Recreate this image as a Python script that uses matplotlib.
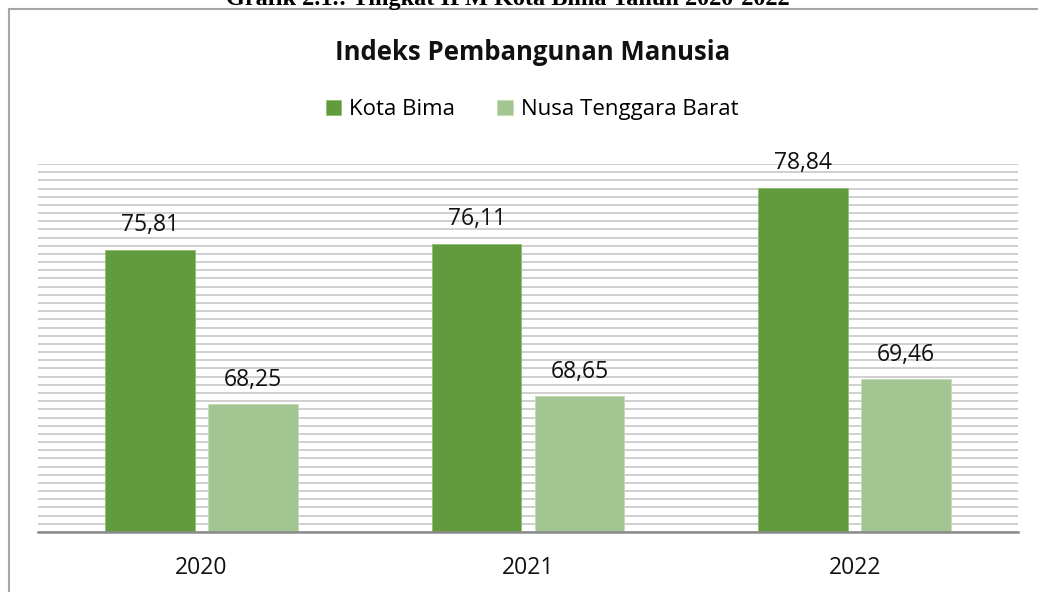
import numpy as np
import matplotlib
matplotlib.use("Agg")
import matplotlib.pyplot as plt
from matplotlib.patches import Rectangle
from matplotlib.ticker import MultipleLocator

# data
years = ["2020", "2021", "2022"]
kota_bima = [75.81, 76.11, 78.84]
ntb = [68.25, 68.65, 69.46]
series_names = ["Kota Bima", "Nusa Tenggara Barat"]

dark_green = "#629A3E"
light_green = "#A2C592"

plt.rcParams['font.family'] = ['Open Sans', 'DejaVu Sans']

fig = plt.figure(figsize=(10.38, 5.92), dpi=100)
ax = fig.add_axes([38 / 1038, 1 - 532 / 592, 980 / 1038, 368 / 592])

x = np.arange(len(years))
w = 0.275
off = 0.1575
b1 = ax.bar(x - off, kota_bima, w, color=dark_green, edgecolor="#8fbf70", linewidth=0.6,
            label=series_names[0], zorder=3)
b2 = ax.bar(x + off, ntb, w, color=light_green, edgecolor="#c2dcb6", linewidth=0.6,
            label=series_names[1], zorder=3)

for bars, vals in [(b1, kota_bima), (b2, ntb)]:
    ax.bar_label(bars, labels=[f"{v:.2f}".replace(".", ",") for v in vals],
                 padding=9, fontsize=16.5, color="#111111")

ax.set_xlim(-0.5, 2.5)
ax.set_ylim(62, 80)
ax.yaxis.set_major_locator(MultipleLocator(0.4))
ax.grid(axis="y", color="#cbcbcb", linewidth=1.3, zorder=0)
ax.set_yticklabels([])
ax.tick_params(axis="y", length=0)
ax.tick_params(axis="x", length=0, pad=17, labelsize=16.5, labelcolor="#111111")
ax.set_xticks(x)
ax.set_xticklabels(years)
for s in ["top", "right", "left"]:
    ax.spines[s].set_visible(False)
ax.spines["bottom"].set_color("#8a8a8a")
ax.spines["bottom"].set_linewidth(1.8)
ax.spines["bottom"].set_zorder(4)

# chart title and legend
fig.text(0.513, 1 - 53 / 592, "Indeks Pembangunan Manusia", ha="center", va="center",
         fontsize=18.5, fontweight="bold", color="#111111")
fig.legend(loc="center", bbox_to_anchor=(0.5125, 1 - 110 / 592), ncol=2, frameon=False,
           fontsize=16, handlelength=0.7, handleheight=0.7, handletextpad=0.35,
           columnspacing=1.9)

# outer chart box, running off the page at right and bottom
fig.patches.append(Rectangle((8.5 / 1038, -0.2), 2, 1.2 - 8.5 / 592, transform=fig.transFigure,
                             fill=False, edgecolor="#a6a6a6", linewidth=1.5))

# document caption, cut off at the top
fig.text(0.489, 1 - 5.5 / 592, "Grafik 2.1.: Tingkat IPM Kota Bima Tahun 2020-2022",
         ha="center", va="baseline", fontsize=17.5, fontweight="bold",
         family=["Liberation Serif", "DejaVu Serif"], color="black")

fig.savefig("out.png", dpi=100)
